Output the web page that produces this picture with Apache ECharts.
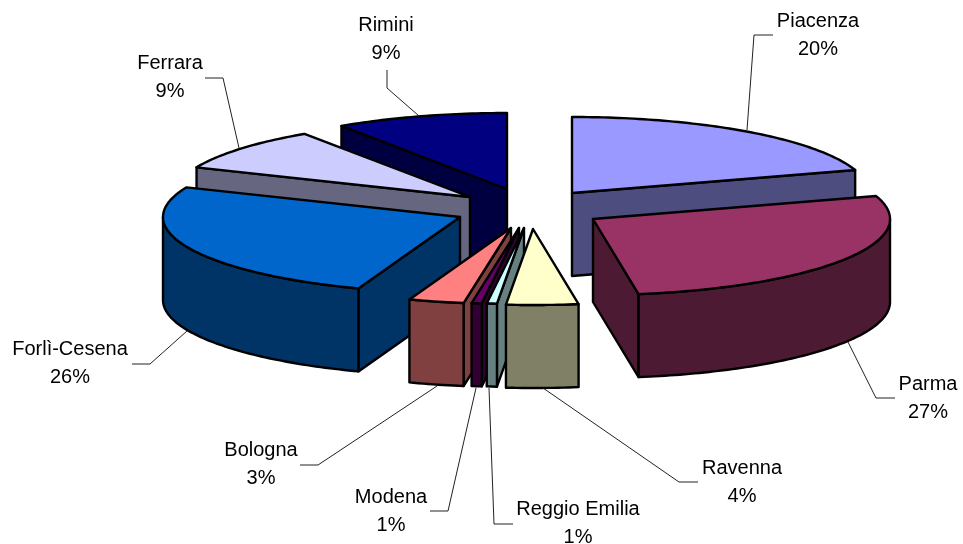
<!DOCTYPE html>
<html>
<head>
<meta charset="utf-8">
<title>Province</title>
<script src="https://cdn.jsdelivr.net/npm/echarts@6/dist/echarts.min.js"></script>
<style>
  html, body { margin: 0; padding: 0; background: #fff; }
  #chart { width: 963px; height: 544px; }
</style>
</head>
<body>
<div id="chart"></div>
<script>
// data, clockwise from 12 o'clock
const names = ['Piacenza', 'Parma', 'Ravenna', 'Reggio Emilia', 'Modena', 'Bologna', 'Forlì-Cesena', 'Ferrara', 'Rimini'];
const shares = [20.1, 27.4, 3.9, 0.55, 0.55, 3.0, 25.8, 9.2, 9.4];

// styling
const topColors = ['#9999FF', '#993366', '#FFFFCC', '#CCFFFF', '#660066', '#FF8080', '#0066CC', '#CCCCFF', '#000080'];
const sideColors = ['#4D4D80', '#4D1A33', '#808066', '#668080', '#330033', '#804040', '#003366', '#666680', '#000040'];

// pie layout: exploded offsets are per slice, as in the source chart
const pie = { cx: 525, cy: 207, rx: 297, ry: 76, depth: 83 };
const explodeX = [47, 68, 8, -1, -6, -14, -65, -55, -18];
const explodeY = [-14, 12, 22, 21, 21, 21, 10, -10, -18];
const paintOrder = [8, 7, 0, 6, 1, 5, 4, 3, 2];

// label centres and leader lines
const labelPos = [[818, 35], [928, 398], [742, 482], [578, 523], [391, 511], [261, 464], [70, 363], [170, 77], [386, 39]];
const leaders = [
  [[773, 35], [754, 35], [747, 130]],
  [[895, 398], [876, 398], [848, 342]],
  [[698, 482], [679, 482], [543, 388]],
  [[513, 524], [494, 524], [489, 388]],
  [[430, 511], [448, 511], [476, 388]],
  [[300, 465], [318, 465], [437, 386]],
  [[132, 364], [150, 364], [187, 331]],
  [[205, 78], [223, 78], [239, 148]],
  [[387, 70], [387, 88], [419, 116]]
];

const total = shares.reduce((a, b) => a + b, 0);
const starts = [];
shares.reduce((acc, v, i) => { starts[i] = acc; return acc + v; }, 0);

const rad = (deg) => (deg * Math.PI) / 180;

const renderSlice = (params, api) => {
  const i = api.value(0);
  const a0 = (starts[i] / total) * 360;
  const a1 = a0 + (shares[i] / total) * 360;
  const ox = pie.cx + explodeX[i];
  const oy = pie.cy + explodeY[i];
  const rim = (deg, drop) => [
    ox + pie.rx * Math.sin(rad(deg)),
    oy - pie.ry * Math.cos(rad(deg)) + (drop || 0)
  ];
  const arc = (from, to, drop) => {
    const pts = [];
    for (let d = from; d < to; d += 1) pts.push(rim(d, drop));
    pts.push(rim(to, drop));
    return pts;
  };
  const lineStyle = { stroke: '#000', lineWidth: 2.4, lineJoin: 'round' };
  const side = sideColors[i];
  const face = (points, fill) => ({
    type: 'polygon',
    shape: { points },
    style: { ...lineStyle, fill }
  });
  const radial = (deg) => face([[ox, oy], rim(deg), rim(deg, pie.depth), [ox, oy + pie.depth]], side);

  const children = [];
  if (Math.sin(rad(a0)) < 0) children.push(radial(a0));
  if (Math.sin(rad(a1)) > 0) children.push(radial(a1));
  // outer wall, front half of the rim only
  const wallFrom = Math.max(a0, 90);
  const wallTo = Math.min(a1, 270);
  if (wallFrom < wallTo) {
    children.push(face(arc(wallFrom, wallTo).concat(arc(wallFrom, wallTo, pie.depth).reverse()), side));
  }
  children.push(face([[ox, oy]].concat(arc(a0, a1)), topColors[i]));

  children.push({
    type: 'polyline',
    shape: { points: leaders[i] },
    style: { stroke: '#222', lineWidth: 1, fill: null }
  });
  children.push({
    type: 'text',
    style: {
      text: names[i] + '\n' + Math.round(shares[i]) + '%',
      x: labelPos[i][0],
      y: labelPos[i][1],
      align: 'center',
      verticalAlign: 'middle',
      fill: '#000',
      fontSize: 20,
      lineHeight: 28,
      fontFamily: '"Liberation Sans", Arial, sans-serif'
    }
  });
  return { type: 'group', children };
};

const chart = echarts.init(document.getElementById('chart'));
chart.setOption({
  animation: false,
  backgroundColor: '#fff',
  series: [
    {
      type: 'custom',
      coordinateSystem: 'none',
      silent: true,
      renderItem: renderSlice,
      data: paintOrder.map((i) => [i, shares[i]])
    }
  ]
});
</script>
</body>
</html>
